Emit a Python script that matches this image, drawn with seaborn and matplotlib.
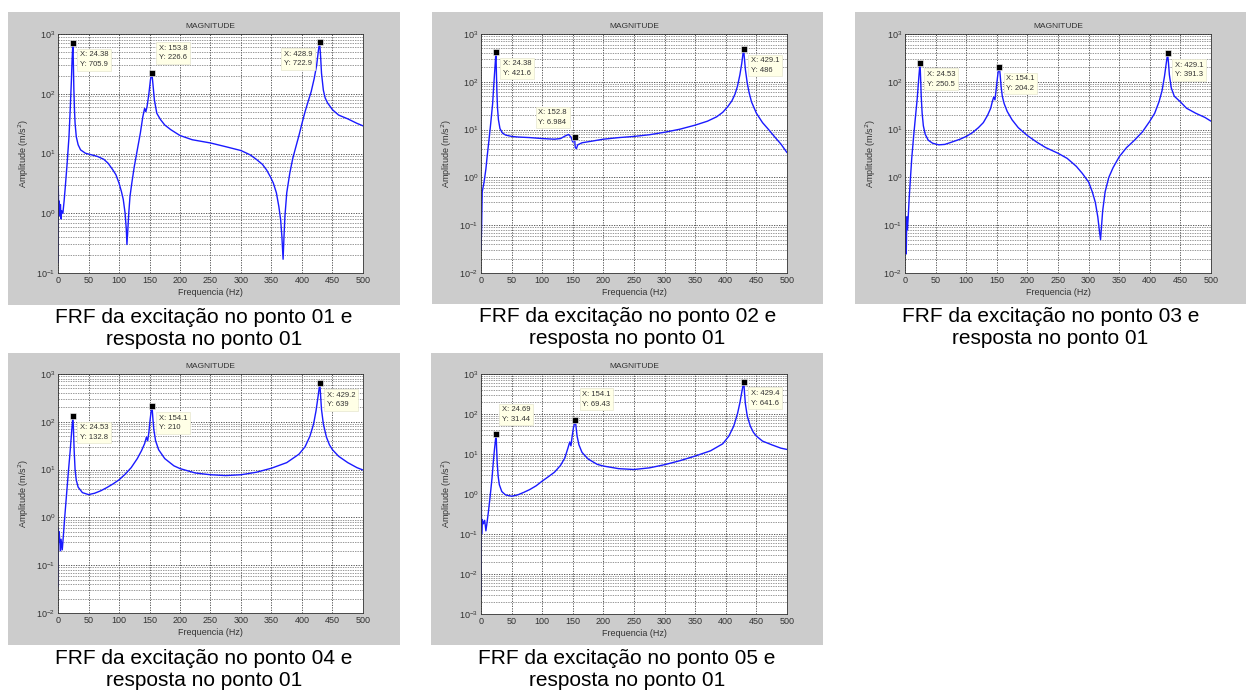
import numpy as np
import pandas as pd
import matplotlib
matplotlib.use("Agg")
import matplotlib.pyplot as plt
import seaborn as sns
from matplotlib.patches import Rectangle
from matplotlib.ticker import LogLocator, MultipleLocator, NullFormatter

# curve breakpoints (frequency in Hz, amplitude in m/s^2)
freq1 = [0, 0.5, 1, 2, 3, 4, 5, 6, 8, 10, 12, 15, 18, 20, 22, 23, 24.38, 25, 26, 27, 28, 30, 33, 37, 45,
         55, 65, 75, 82, 90, 95, 100, 104, 107, 110, 112, 113, 114.5, 116, 118, 121, 125, 130, 135, 139,
         142, 144, 146, 149, 151.5, 153.8, 155.5, 158, 162, 168, 175, 185, 200, 220, 250, 275, 300, 315,
         325, 335, 342, 348, 353, 358, 362, 365, 367, 369, 370.5, 372, 375, 380, 385, 390, 395, 400, 405,
         410, 415, 420, 424, 427, 428.9, 430.5, 432, 435, 438, 442, 450, 460, 475, 490, 500]
amp1 = [0.15, 2.8, 1.2, 1.6, 0.9, 1.4, 0.8, 1.1, 1.0, 1.6, 2.8, 6.9, 19, 54, 170, 350, 705.9, 400, 120,
        54, 32, 19, 14, 11.5, 10.1, 9.5, 8.9, 8.0, 6.9, 5.3, 4.4, 3.2, 2.3, 1.7, 1.0, 0.53, 0.3, 0.53, 1.0,
        1.9, 3.2, 6.0, 11.5, 22, 41, 57, 50, 61, 100, 170, 226.6, 150, 79, 47, 37, 30, 25, 20, 17, 15, 13,
        11.2, 9.5, 8.0, 6.6, 5.3, 4.1, 3.2, 2.2, 1.3, 0.78, 0.41, 0.17, 0.41, 0.89, 2.2, 4.7, 8.4, 13, 20,
        32, 50, 74, 108, 180, 300, 540, 722.9, 420, 220, 115, 85, 70, 54, 44, 38, 32, 29]

freq2 = [0, 1, 2, 5, 8, 10, 13, 16, 19, 21, 23, 24.39, 25.2, 26, 27, 28.5, 31, 35, 40, 50, 60, 80, 100,
         120, 130, 137, 143, 147, 150, 152.8, 154, 156, 158, 165, 180, 200, 225, 250, 275, 300, 325, 350,
         370, 385, 395, 403, 410, 415, 419, 423, 426, 428, 429.1, 430.5, 432, 435, 438, 442, 450, 460, 470,
         480, 490, 500]
amp2 = [0.03, 0.09, 0.5, 0.8, 1.5, 2.7, 6, 14, 35, 90, 220, 421.6, 150, 60, 28, 16, 10.5, 8.5, 7.7, 7.2,
        7.0, 6.8, 6.5, 6.3, 6.5, 7.3, 7.9, 7.0, 5.5, 6.984, 4.2, 4.0, 4.8, 5.3, 5.7, 6.3, 6.8, 7.2, 7.8, 8.8,
        10.2, 12.4, 15, 18.5, 23, 30, 40, 55, 80, 140, 240, 380, 486, 300, 180, 95, 60, 38, 22, 14, 10, 7,
        5, 3.3]

freq3 = [0, 1, 2, 3, 4, 5, 7, 9, 11, 14, 17, 20, 22.5, 24.53, 25.5, 26.5, 28, 30, 33, 38, 45, 55, 65, 75,
         90, 100, 110, 120, 128, 135, 140, 143, 145, 147, 149, 151, 152.5, 154.1, 155.5, 157, 159, 162,
         167, 175, 185, 200, 215, 230, 250, 265, 280, 290, 300, 306, 311, 315, 318, 319.5, 321, 323, 327,
         333, 340, 350, 362, 375, 388, 400, 408, 415, 420, 424, 427, 429.1, 430.5, 432, 435, 440, 450, 460,
         475, 490, 500]
amp3 = [0.28, 0.06, 0.025, 0.15, 0.08, 0.13, 0.4, 1.0, 2.5, 7, 18, 45, 120, 250.5, 120, 50, 22, 12, 8, 6,
        5.2, 4.8, 4.9, 5.4, 6.3, 7.2, 8.6, 11, 14, 20, 28, 40, 48, 42, 70, 120, 170, 204.2, 140, 80, 50, 35,
        24, 16, 11, 7.5, 5.5, 4.2, 3.2, 2.5, 1.7, 1.2, 0.8, 0.5, 0.3, 0.15, 0.07, 0.05, 0.09, 0.2, 0.5, 1.0,
        1.6, 2.7, 4.2, 6.0, 9, 15, 22, 38, 65, 130, 250, 391.3, 250, 140, 75, 50, 38, 28, 22, 18, 15]

freq4 = [0, 0.5, 1, 2, 3, 4, 5, 7, 9, 11, 14, 17, 20, 22.5, 24.53, 25.5, 26.5, 28, 30, 33, 40, 50, 60,
         70, 80, 90, 100, 110, 120, 130, 137, 142, 145, 147, 149, 151, 152.5, 154.1, 155.5, 157, 160, 165,
         175, 190, 200, 225, 250, 275, 300, 325, 350, 375, 395, 405, 413, 419, 423, 426.5, 429.2, 430.5,
         432, 435, 440, 445, 450, 460, 475, 490, 500]
amp4 = [0.036, 0.6, 0.3, 0.5, 0.3, 0.2, 0.35, 0.21, 0.45, 1.0, 3, 9, 25, 65, 132.8, 60, 25, 10, 6, 4.3,
        3.3, 3.0, 3.2, 3.6, 4.2, 5.0, 6.1, 8.0, 11, 17, 25, 35, 48, 40, 60, 110, 160, 210, 120, 70, 40, 26,
        17, 12, 10.5, 8.5, 7.8, 7.5, 7.8, 8.8, 10.7, 14, 21, 30, 50, 90, 170, 350, 639, 350, 180, 90, 48,
        33, 26, 19, 14, 11, 9.8]

freq5 = [0, 0.5, 1, 2, 4, 6, 8, 10, 12, 15, 18, 20, 22, 24.69, 25.5, 26.5, 28, 30, 34, 40, 50, 60, 70,
         80, 90, 100, 110, 120, 130, 137, 142, 145, 147, 149, 151, 154.1, 155.5, 157, 160, 165, 175, 190,
         200, 225, 250, 275, 300, 325, 350, 375, 395, 405, 413, 419, 423, 426.5, 429.4, 430.5, 432, 435,
         440, 445, 450, 460, 475, 490, 500]
amp5 = [0.0027, 0.6, 0.1, 0.23, 0.18, 0.22, 0.12, 0.2, 0.35, 0.88, 2.5, 6, 13, 31.44, 14, 6, 2.8, 1.7,
        1.15, 0.95, 0.88, 0.95, 1.1, 1.3, 1.6, 2.1, 2.7, 3.5, 5.2, 8, 14, 20, 16, 28, 45, 69.43, 45, 28, 17,
        11, 7.5, 5.5, 5.0, 4.3, 4.1, 4.5, 5.4, 6.8, 8.9, 12, 18, 28, 50, 100, 190, 380, 641.6, 350, 180, 90,
        50, 35, 28, 21, 17, 14, 13]

# data cursor points (x, y)
tips1 = [(24.38, 705.9), (153.8, 226.6), (428.9, 722.9)]
tips2 = [(24.38, 421.6), (152.8, 6.984), (429.1, 486)]
tips3 = [(24.53, 250.5), (154.1, 204.2), (429.1, 391.3)]
tips4 = [(24.53, 132.8), (154.1, 210), (429.2, 639)]
tips5 = [(24.69, 31.44), (154.1, 69.43), (429.4, 641.6)]

captions = ["FRF da excitação no ponto 01 e\nresposta no ponto 01",
            "FRF da excitação no ponto 02 e\nresposta no ponto 01",
            "FRF da excitação no ponto 03 e\nresposta no ponto 01",
            "FRF da excitação no ponto 04 e\nresposta no ponto 01",
            "FRF da excitação no ponto 05 e\nresposta no ponto 01"]
ymins = [1e-1, 1e-2, 1e-2, 1e-2, 1e-3]

# layout in pixels: gray box (x0, y0, x1, y1), axes (x0, y0, x1, y1)
W, H = 1248, 693
boxes = [(8, 12, 400, 305), (432, 12, 823, 304), (855, 12, 1246, 304),
         (8, 353, 400, 645), (431, 353, 823, 645)]
axpos = [(58, 34, 363, 273), (481, 34, 787, 273), (905, 34, 1211, 273),
         (58, 374, 363, 613), (481, 374, 787, 614)]
# tip label offsets in points (dx, dy) relative to marker
tip_offsets = [
    [(5, -6), (5, 20), (-26, -6)],
    [(5, -6), (-26, 20), (5, -6)],
    [(5, -6), (5, -6), (5, -6)],
    [(5, -6), (5, -6), (5, -6)],
    [(4, 20), (5, 21), (5, -6)],
]

sns.set_style("white")
plt.rcParams['font.family'] = ['Liberation Sans', 'DejaVu Sans']

fig = plt.figure(figsize=(W / 100, H / 100), dpi=100)
fig.patch.set_facecolor("white")

curves = [(freq1, amp1), (freq2, amp2), (freq3, amp3), (freq4, amp4), (freq5, amp5)]
tips = [tips1, tips2, tips3, tips4, tips5]

for i in range(5):
    bx0, by0, bx1, by1 = boxes[i]
    fig.patches.append(Rectangle((bx0 / W, 1 - by1 / H), (bx1 - bx0) / W, (by1 - by0) / H,
                                 transform=fig.transFigure, facecolor="#cccccc",
                                 edgecolor="none", zorder=-10))
    ax0, ay0, ax1, ay1 = axpos[i]
    ax = fig.add_axes([ax0 / W, 1 - ay1 / H, (ax1 - ax0) / W, (ay1 - ay0) / H])
    ax.set_zorder(1)
    ax.set_facecolor("white")

    df = pd.DataFrame({"freq": curves[i][0], "amp": curves[i][1]})
    sns.lineplot(data=df, x="freq", y="amp", ax=ax, color="#1a1aff", lw=1.0, sort=False)
    ax.set_yscale("log")
    ax.set_xlim(0, 500)
    ax.set_ylim(ymins[i], 1e3)
    ax.xaxis.set_major_locator(MultipleLocator(50))
    ax.yaxis.set_major_locator(LogLocator(base=10, numticks=10))
    ax.yaxis.set_minor_locator(LogLocator(base=10, subs=np.arange(2, 10), numticks=20))
    ax.yaxis.set_minor_formatter(NullFormatter())
    ax.grid(True, which="major", axis="both", color="#404040", ls=(0, (1.5, 1.5)), lw=0.6)
    ax.grid(True, which="minor", axis="y", color="#707070", ls=(0, (2, 1.5)), lw=0.5)
    ax.tick_params(axis="both", which="major", labelsize=6.5, length=2.5, width=0.5,
                   direction="in", colors="#333333", pad=2)
    ax.tick_params(axis="y", which="minor", length=1.5, width=0.4, direction="in")
    for sp in ax.spines.values():
        sp.set_color("#333333")
        sp.set_linewidth(0.6)
    ax.set_title("MAGNITUDE", fontsize=6, color="#333333", pad=4)
    ax.set_xlabel("Frequencia (Hz)", fontsize=6.5, color="#333333", labelpad=2)
    ax.set_ylabel("Amplitude (m/s$^2$)", fontsize=6.5, color="#333333", labelpad=4)

    for (tx, ty), (dx, dy) in zip(tips[i], tip_offsets[i]):
        ax.plot([tx], [ty], marker="s", ms=4.5, color="black", mec="white", mew=0.4, zorder=5)
        ax.annotate("X: {}\nY: {}".format(tx, ty), xy=(tx, ty), xytext=(dx, dy),
                    textcoords="offset points", fontsize=5.5, color="#333333", va="top", ha="left",
                    linespacing=1.5,
                    bbox=dict(boxstyle="square,pad=0.35", fc="#ffffe6", ec="#e6e6d0", lw=0.5),
                    zorder=6)

    cx = (bx0 + bx1) / 2
    fig.text(cx / W, 1 - (by1 + 24) / H, captions[i], ha="center", va="center",
             fontsize=15, linespacing=1.2, color="black")

fig.savefig("out.png", dpi=100)
